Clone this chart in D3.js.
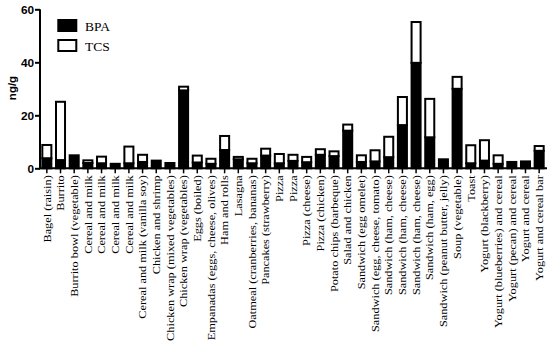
<!DOCTYPE html>
<html><head><meta charset="utf-8">
<script src="https://cdn.jsdelivr.net/npm/d3@7/dist/d3.min.js"></script>
<style>body{margin:0;background:#fff}svg{display:block}</style>
</head><body><svg id="c" width="550" height="344"></svg>
<script>
const categories = ["Bagel (raisin)","Burrito","Burrito bowl (vegetable)","Cereal and milk","Cereal and milk","Cereal and milk","Cereal and milk","Cereal and milk (vanilla soy)","Chicken and shrimp","Chicken wrap (mixed vegetables)","Chicken wrap (vegetables)","Eggs (boiled)","Empanadas (eggs, cheese, olives)","Ham and rolls","Lasagna","Oatmeal (cranberries, bananas)","Pancakes (strawberry)","Pizza","Pizza","Pizza (cheese)","Pizza (chicken)","Potato chips (barbeque)","Salad and chicken","Sandwich (egg omelet)","Sandwich (egg, cheese, tomato)","Sandwich (ham, cheese)","Sandwich (ham, cheese)","Sandwich (ham, cheese)","Sandwich (ham, egg)","Sandwich (peanut butter, jelly)","Soup (vegetable)","Toast","Yogurt (blackberry)","Yogurt (blueberries) and cereal","Yogurt (pecan) and cereal","Yogurt and cereal","Yogurt and cereal bar"];
const bpa = [3.8,3.1,4.9,2.0,1.9,1.7,1.9,2.4,2.9,2.0,29.4,2.2,1.7,6.9,3.4,1.9,4.8,1.9,2.8,2.3,5.1,4.6,14.2,2.4,2.6,4.2,16.3,39.8,11.7,3.4,30.0,1.9,2.9,1.7,2.4,2.6,6.6];
const tcs = [5.0,22.0,0,1.0,2.5,0,6.3,2.7,0,0,1.4,2.6,1.9,5.3,0.9,1.7,2.6,3.5,2.3,2.0,2.1,1.8,2.3,2.5,4.2,7.7,10.6,15.4,14.5,0,4.5,6.8,7.7,3.2,0,0,1.8];
const yTicks = [0,20,40,60];
const seriesNames = ["BPA","TCS"];

const svg = d3.select("#c");
const x = d3.scaleBand().domain(d3.range(categories.length)).range([40,546]).paddingInner(0.34).paddingOuter(0.17);
const y = d3.scaleLinear().domain([0,60]).range([168.3,9.3]);

const g = svg.append("g");
categories.forEach((c,i)=>{
  g.append("rect").attr("x",x(i)).attr("width",x.bandwidth())
    .attr("y",y(bpa[i])).attr("height",y(0)-y(bpa[i]))
    .attr("fill","#000").attr("stroke","#000").attr("stroke-width",2);
  if (tcs[i]>0) g.append("rect").attr("x",x(i)).attr("width",x.bandwidth())
    .attr("y",y(bpa[i]+tcs[i])).attr("height",y(bpa[i])-y(bpa[i]+tcs[i]))
    .attr("fill","#fff").attr("stroke","#000").attr("stroke-width",2);
});

// y axis
const ya = svg.append("g").attr("transform","translate(40,0)")
  .call(d3.axisLeft(y).tickValues(yTicks).tickSize(5).tickPadding(1).tickFormat(d3.format("d")));
ya.select(".domain").attr("stroke-width",2).attr("d",`M0,${y(60)}V${y(0)+1}`);
ya.selectAll(".tick line").attr("stroke-width",2);
ya.selectAll("text").attr("font-family","Liberation Sans, Arial, sans-serif").attr("font-weight","bold").attr("font-size",11.8).attr("fill","#000");

// x axis
const xa = svg.append("g").attr("transform",`translate(0,${y(0)})`)
  .call(d3.axisBottom(x).tickSize(5).tickSizeOuter(0).tickFormat(i=>categories[i]));
xa.select(".domain").attr("stroke-width",2).attr("d","M39,0H547");
xa.selectAll(".tick line").attr("stroke-width",1.5);
xa.selectAll("text").attr("font-family","Liberation Serif, Times New Roman, serif").attr("font-size",11.5).attr("fill","#000")
  .attr("transform","rotate(-90) scale(1.07,0.92)").attr("text-anchor","end").attr("x",-6.5).attr("y",0).attr("dy","0.35em");

// y title
svg.append("text").attr("transform","translate(15.5,88) rotate(-90)").attr("text-anchor","middle")
  .attr("font-family","Liberation Sans, Arial, sans-serif").attr("font-weight","bold").attr("font-size",11.5).text("ng/g");

// legend
seriesNames.forEach((s,i)=>{
  svg.append("rect").attr("x",58.3).attr("y",20+i*20).attr("width",18).attr("height",11)
    .attr("fill",i===0?"#000":"#fff").attr("stroke","#000").attr("stroke-width",2);
  svg.append("text").attr("x",85).attr("y",30.5+i*20).attr("font-family","Liberation Serif, Times New Roman, serif")
    .attr("font-size",13.5).text(s);
});
</script></body></html>
